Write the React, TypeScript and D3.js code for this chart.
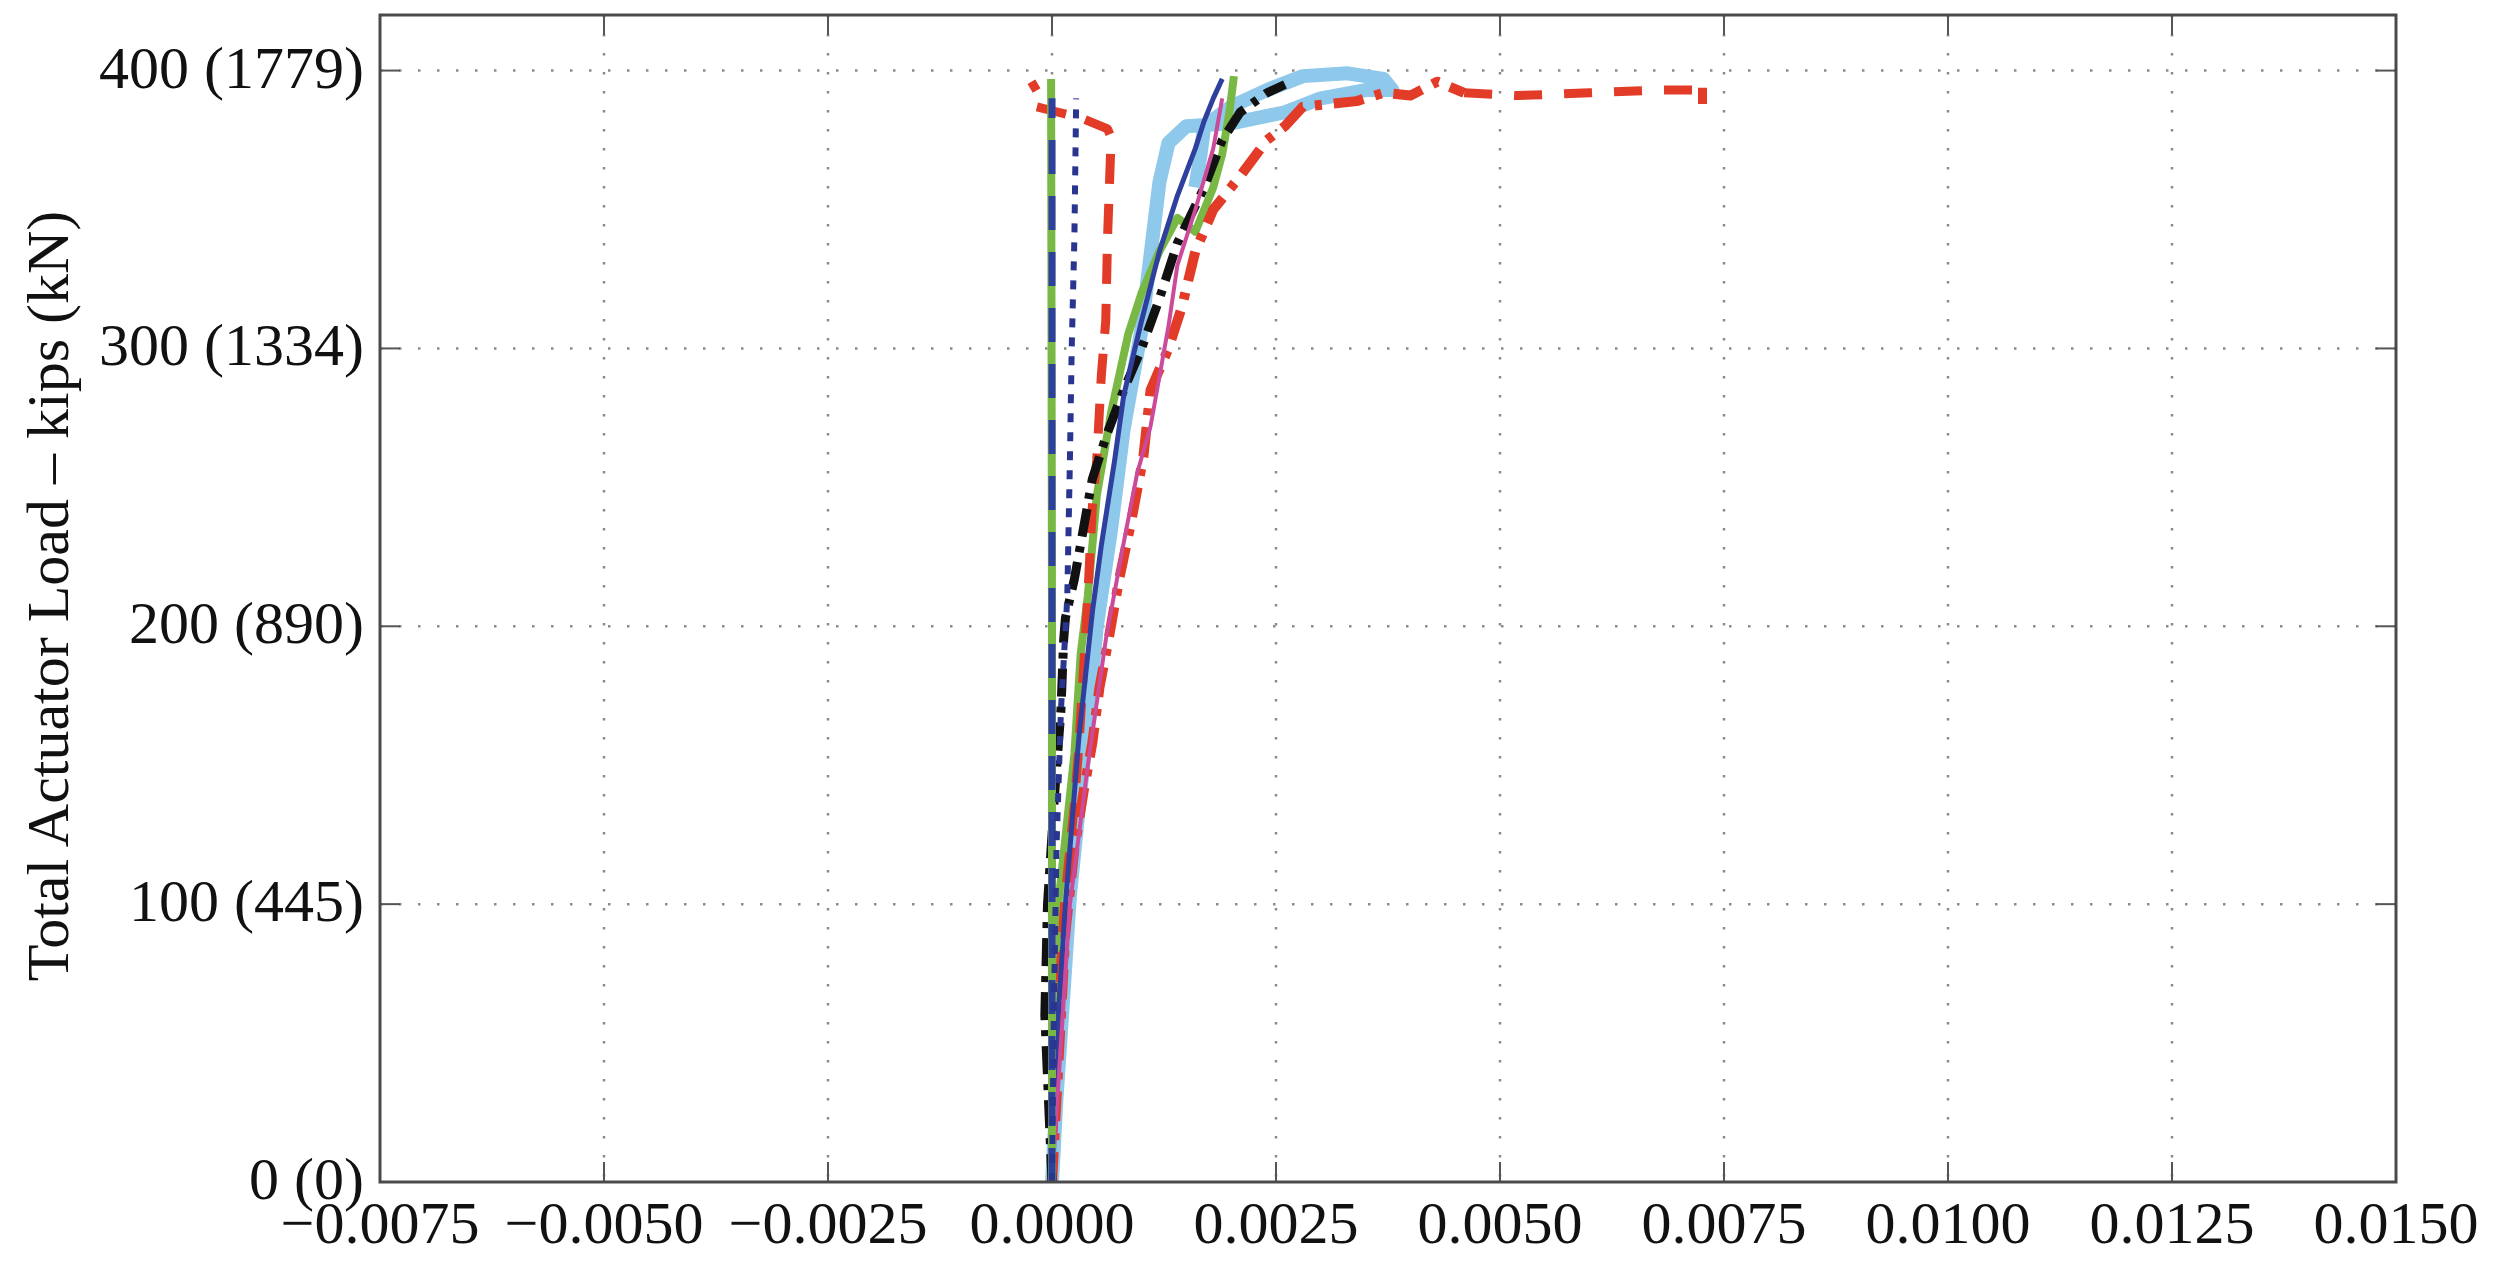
import React from "react";
import * as d3 from "d3";

type Pt = [number, number];

const xTicks = [-0.0075, -0.005, -0.0025, 0, 0.0025, 0.005, 0.0075, 0.01, 0.0125, 0.015];
const yTicks = [0, 100, 200, 300, 400];
const yTickLabels = ["0 (0)", "100 (445)", "200 (890)", "300 (1334)", "400 (1779)"];
const yTitle = "Total Actuator Load \u2013 kips (kN)";

const lightBlue: Pt[] = [[0,0],[0.00005,30],[0.0001,54],[0.0002,103],[0.0003,135],[0.0004,166],[0.0005,200],[0.00066,235],[0.0008,271],[0.001,307],[0.00112,339],[0.0012,360],[0.0013,374],[0.0015,380],[0.002,381],[0.0026,385],[0.003,390],[0.0035,393],[0.0038,393],[0.0037,397],[0.0033,399],[0.0028,398],[0.0024,393],[0.002,387],[0.0017,380],[0.00165,368],[0.0016,358]];
const greenSloped: Pt[] = [[0,0],[0.00001,50],[0.00006,97],[0.00013,118],[0.00025,154],[0.00032,190],[0.0004,211],[0.0005,247],[0.00066,277],[0.00085,305],[0.001,320],[0.0012,335],[0.0014,347],[0.0016,342],[0.0018,358],[0.0019,370],[0.00198,385],[0.00203,398]];
const redDashDot: Pt[] = [[0,0],[0.00005,30],[0.0001,60],[0.00015,90],[0.00025,120],[0.00035,140],[0.00045,158],[0.00053,178],[0.00063,195],[0.00075,217],[0.00088,237],[0.00102,261],[0.0011,285],[0.0013,300],[0.00145,315],[0.0016,335],[0.0018,350],[0.0021,362],[0.0024,375],[0.0026,380],[0.0028,387],[0.0031,388],[0.0034,389],[0.0037,392],[0.004,391],[0.0043,396],[0.0046,392]];
const redTail: Pt[] = [[0.0046,392],[0.0052,391],[0.006,392],[0.0068,393],[0.00722,393],[0.00726,396],[0.00726,388]];
const redDashed: Pt[] = [[0,0],[0.00001,15],[0.00004,40],[0.00008,60],[0.0001,80],[0.00014,100],[0.0002,120],[0.00025,136],[0.0003,157],[0.00034,178],[0.00038,200],[0.0004,211],[0.00045,243],[0.0005,260],[0.00055,290],[0.0006,310],[0.00062,340],[0.00066,376],[0.00062,379],[0.00032,383],[0.00007,385],[-0.00018,387],[-0.00012,390],[-0.00023,396]];
const blackDashDot: Pt[] = [[0,0],[-0.00004,30],[-0.00008,60],[-0.00005,100],[0.00003,140],[0.0001,170],[0.00013,195],[0.00015,203],[0.00025,217],[0.00035,235],[0.00045,253],[0.0006,268],[0.0008,285],[0.001,300],[0.0012,318],[0.0014,338],[0.0017,358],[0.0019,375],[0.0021,385],[0.0024,392],[0.0026,395]];
const blueSolid: Pt[] = [[0,0],[0.00005,50],[0.00015,100],[0.0003,160],[0.00045,205],[0.00055,229],[0.0007,260],[0.0008,283],[0.001,310],[0.0012,335],[0.0014,355],[0.0016,372],[0.0017,382],[0.0018,390],[0.0019,397]];
const magenta: Pt[] = [[0,0],[0.0002,100],[0.0004,150],[0.0006,195],[0.0008,230],[0.00095,255],[0.0011,272],[0.0013,308],[0.0014,330],[0.0016,350],[0.0018,372],[0.0019,390]];
const greenVertical: Pt[] = [[0,0],[0,200],[-0.00001,397]];
const navyDashed: Pt[] = [[0,0],[0,200],[0,390]];
const navyDotted: Pt[] = [[0,0],[0.00002,60],[0.00005,120],[0.0001,170],[0.00017,210],[0.0002,260],[0.00022,300],[0.00025,340],[0.00027,390]];

const series = [
  { data: lightBlue, color: "#8ec8ea", width: 14, dash: "" },
  { data: greenSloped, color: "#79b845", width: 8, dash: "" },
  { data: redDashDot, color: "#e23b27", width: 10, dash: "30 12 7 12" },
  { data: redTail, color: "#e23b27", width: 9, dash: "28 22" },
  { data: redDashed, color: "#e23b27", width: 9, dash: "30 20" },
  { data: blackDashDot, color: "#111111", width: 9, dash: "28 10 6 10" },
  { data: blueSolid, color: "#2f3f9e", width: 5, dash: "" },
  { data: magenta, color: "#cc4a9a", width: 4, dash: "" },
  { data: greenVertical, color: "#79b845", width: 8, dash: "" },
  { data: navyDashed, color: "#2f3f9e", width: 7, dash: "34 22" },
  { data: navyDotted, color: "#2a3590", width: 6, dash: "9 10" },
];

const W = 2501, H = 1268;
const L = 380, R = 2396, T = 15, B = 1182;
const FONT = '"Liberation Serif", "Times New Roman", Times, serif';

export default function App() {
  const x = d3.scaleLinear().domain([-0.0075, 0.015]).range([L, R]);
  const y = d3.scaleLinear().domain([0, 420]).range([B, T]);
  const line = d3.line<Pt>().x(d => x(d[0])).y(d => y(d[1]));
  const fmt = (v: number) => (v < 0 ? "\u2212" : "") + Math.abs(v).toFixed(4);
  const tickLen = 20;
  return (
    <svg width={W} height={H} style={{ position: "absolute", left: 0, top: 0, display: "block", background: "#ffffff" }}>
      <rect x={0} y={0} width={W} height={H} fill="#ffffff" />
      {/* grid */}
      {xTicks.slice(1, -1).map((t, i) => (
        <line key={"gx" + i} x1={x(t)} x2={x(t)} y1={T} y2={B} stroke="#8a8a8a" strokeWidth={2.5} strokeDasharray="2.5 16.5" />
      ))}
      {yTicks.slice(1).map((t, i) => (
        <line key={"gy" + i} x1={L} x2={R} y1={y(t)} y2={y(t)} stroke="#8a8a8a" strokeWidth={2.5} strokeDasharray="2.5 16.5" />
      ))}
      {/* ticks */}
      {xTicks.map((t, i) => (
        <g key={"tx" + i}>
          <line x1={x(t)} x2={x(t)} y1={B} y2={B - tickLen} stroke="#555" strokeWidth={2} />
          <line x1={x(t)} x2={x(t)} y1={T} y2={T + tickLen} stroke="#555" strokeWidth={2} />
        </g>
      ))}
      {yTicks.map((t, i) => (
        <g key={"ty" + i}>
          <line x1={L} x2={L + tickLen} y1={y(t)} y2={y(t)} stroke="#555" strokeWidth={2} />
          <line x1={R} x2={R - tickLen} y1={y(t)} y2={y(t)} stroke="#555" strokeWidth={2} />
        </g>
      ))}
      {/* series */}
      {series.map((s, i) => (
        <path key={"s" + i} d={line(s.data) || ""} fill="none" stroke={s.color} strokeWidth={s.width}
          strokeDasharray={s.dash || undefined} strokeLinejoin="round" />
      ))}
      {/* frame */}
      <rect x={L} y={T} width={R - L} height={B - T} fill="none" stroke="#4a4a4a" strokeWidth={3} />
      {/* tick labels */}
      {xTicks.map((t, i) => (
        <text key={"lx" + i} x={x(t)} y={1243} textAnchor="middle" fontFamily={FONT} fontSize={60} fill="#111">{fmt(t)}</text>
      ))}
      {yTicks.map((t, i) => (
        <text key={"ly" + i} x={364} y={y(t) + 17} textAnchor="end" fontFamily={FONT} fontSize={60} fill="#111">{yTickLabels[i]}</text>
      ))}
      <text transform={`translate(68, 596) rotate(-90)`} textAnchor="middle" fontFamily={FONT} fontSize={60} fill="#111">{yTitle}</text>
    </svg>
  );
}
